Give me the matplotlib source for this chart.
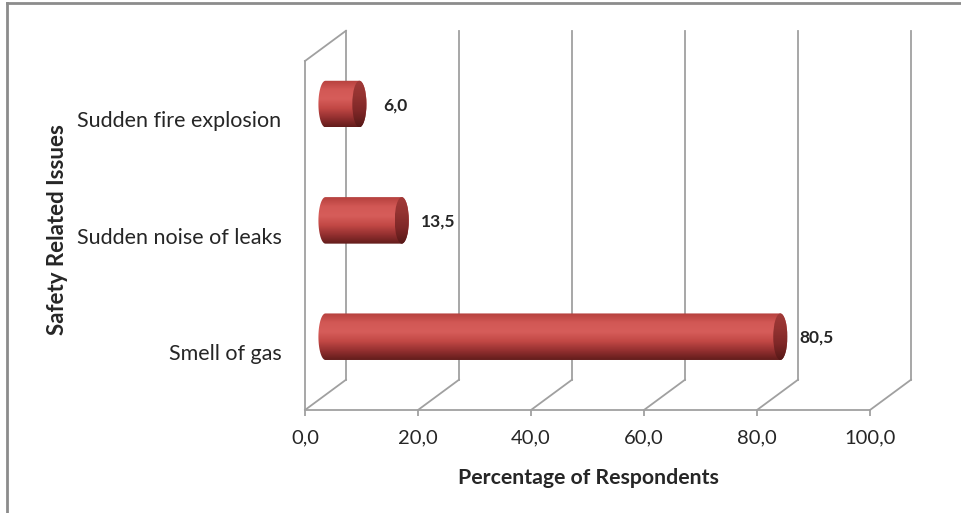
import numpy as np
import matplotlib
matplotlib.use("Agg")
import matplotlib.pyplot as plt
from matplotlib.patches import Polygon, Ellipse
from matplotlib.colors import LinearSegmentedColormap

plt.rcParams['font.family'] = ['Lato', 'DejaVu Sans']

# survey data
issues = ["Smell of gas", "Sudden noise of leaks", "Sudden fire explosion"]
percent = [80.5, 13.5, 6.0]
value_labels = ["80,5", "13,5", "6,0"]
x_ticks = [0, 20, 40, 60, 80, 100]
x_tick_labels = ["0,0", "20,0", "40,0", "60,0", "80,0", "100,0"]

grid_col = "#a0a0a0"
text_col = "#262626"

fig = plt.figure(figsize=(9.61, 5.13), dpi=100)

# outer chart border (top and left edges visible)
fig.add_artist(plt.Line2D([7 / 961, 1], [1 - 3 / 513, 1 - 3 / 513], color="#8c8c8c", lw=2))
fig.add_artist(plt.Line2D([7 / 961, 7 / 961], [0, 1 - 3 / 513], color="#8c8c8c", lw=2))

# front plane of the 3-D box
ax = fig.add_axes([305 / 961, 103 / 513, 565 / 961, 349 / 513])

# depth of the 3-D box in data units
DX = 7.25
DY = 0.26
ylo, yhi = -0.5, 2.5

# back wall gridlines
for xt in x_ticks:
    ax.plot([xt + DX, xt + DX], [ylo + DY, yhi + DY], color=grid_col, lw=1.3,
            clip_on=False, zorder=1)
    # floor diagonals
    ax.plot([xt, xt + DX], [ylo, ylo + DY], color=grid_col, lw=1.3,
            clip_on=False, zorder=1)
# left wall top edge
ax.plot([0, DX], [yhi, yhi + DY], color=grid_col, lw=1.3, clip_on=False, zorder=1)

# cylinder colours
body_cmap = LinearSegmentedColormap.from_list(
    "body", ["#b5403d", "#d25855", "#d65d5a", "#c24845", "#943030", "#621c1b"])
cap_cmap = LinearSegmentedColormap.from_list(
    "cap", ["#a23a38", "#933331", "#7e2727", "#561817"])
grad = np.linspace(0, 1, 256).reshape(-1, 1)

h = 0.40      # cylinder diameter (y units)
a = 1.25      # cap ellipse half width (x units)
t = np.linspace(0, np.pi, 60)

for i, v in enumerate(percent):
    yc = i + DY / 2
    x0 = DX / 2
    x1 = v + DX / 2
    yt, yb = yc + h / 2, yc - h / 2
    left = np.column_stack([x0 - a * np.sin(t), yc + (h / 2) * np.cos(t)])
    right = np.column_stack([x1 + a * np.sin(t), yc - (h / 2) * np.cos(t)])
    outline = np.vstack([left, right])
    body = Polygon(outline, closed=True, facecolor="none", edgecolor="none",
                   transform=ax.transData)
    ax.add_patch(body)
    im = ax.imshow(grad, cmap=body_cmap, extent=[x0 - a, x1 + a, yb, yt],
                   origin="upper", aspect="auto", zorder=2, clip_on=True)
    im.set_clip_path(body)

    cap = Ellipse((x1, yc), 2 * a, h, facecolor="none", edgecolor="none",
                  transform=ax.transData)
    ax.add_patch(cap)
    im2 = ax.imshow(grad, cmap=cap_cmap, extent=[x1 - a, x1 + a, yb, yt],
                    origin="upper", aspect="auto", zorder=3)
    im2.set_clip_path(cap)

    ax.annotate(value_labels[i], (x1, yc), xytext=(36, -1), textcoords="offset pixels",
                ha="center", va="center", fontsize=12.5, fontweight="bold",
                color=text_col, zorder=4)

ax.set_xlim(0, 100)
ax.set_ylim(ylo, yhi)
ax.set_facecolor("none")

for side in ["top", "right"]:
    ax.spines[side].set_visible(False)
for side in ["bottom", "left"]:
    ax.spines[side].set_color(grid_col)
    ax.spines[side].set_linewidth(1.3)

ax.set_xticks(x_ticks)
ax.set_xticklabels(x_tick_labels)
ax.set_yticks(range(len(issues)))
ax.set_yticklabels(issues)
ax.tick_params(axis="x", length=4, width=1.3, color=grid_col, labelsize=14.5,
               labelcolor=text_col, pad=10)
ax.tick_params(axis="y", length=0, labelsize=15.5, labelcolor=text_col, pad=17)

fig.text(588 / 961, 1 - 478 / 513, "Percentage of Respondents", ha="center",
         va="center", fontsize=15.3, fontweight="bold", color=text_col)
fig.text(58 / 961, 1 - 230 / 513, "Safety Related Issues", ha="center",
         va="center", rotation=90, fontsize=16, fontweight="bold", color=text_col)

fig.savefig("out.png", dpi=100)
